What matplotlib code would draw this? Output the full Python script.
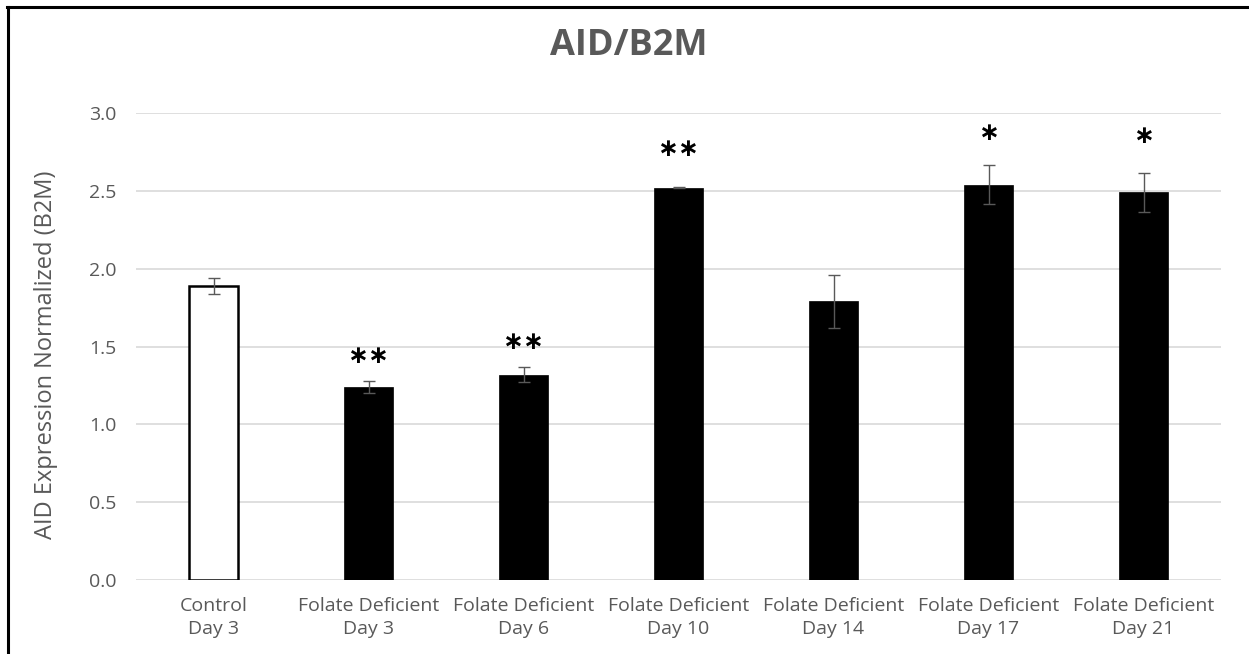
import numpy as np
import matplotlib.pyplot as plt

# Categories and values
groups = ['Control\nDay 3', 'Folate Deficient\nDay 3', 'Folate Deficient\nDay 6',
          'Folate Deficient\nDay 10', 'Folate Deficient\nDay 14',
          'Folate Deficient\nDay 17', 'Folate Deficient\nDay 21']
expression = [1.89, 1.24, 1.32, 2.52, 1.79, 2.54, 2.49]
errors = [0.05, 0.04, 0.05, 0.005, 0.17, 0.125, 0.125]
fill_colors = ['white', 'black', 'black', 'black', 'black', 'black', 'black']
stars = ['', '**', '**', '**', '', '*', '*']
star_y = [0, 1.44, 1.53, 2.77, 0, 2.87, 2.85]

plt.rcParams['font.family'] = ['Open Sans', 'DejaVu Sans']
grey = '#595959'

fig = plt.figure(figsize=(12.49, 6.54), dpi=100)
ax = fig.add_axes([136 / 1249, 1 - 580 / 654, 1085 / 1249, 467 / 654])

x = np.arange(len(groups))
ax.bar(x, expression, width=0.32, color=fill_colors, edgecolor='black',
       linewidth=[1.8, 0.5, 0.5, 0.5, 0.5, 0.5, 0.5], zorder=3)
ax.errorbar(x, expression, yerr=errors, fmt='none', ecolor=grey,
            elinewidth=1, capsize=4, capthick=1, zorder=4)

for xi, s, sy in zip(x, stars, star_y):
    if s:
        ax.text(xi, sy, s.replace('*', '\u2217'), ha='center', va='center',
                fontsize=18, fontweight='bold', color='black',
                family=['DejaVu Sans'])

ax.set_xlim(-0.5, len(groups) - 0.5)
ax.set_ylim(0, 3.0)
ax.set_yticks(np.arange(0, 3.01, 0.5))
ax.set_yticklabels([f'{v:.1f}' for v in np.arange(0, 3.01, 0.5)])
ax.set_xticks(x)
ax.set_xticklabels(groups, linespacing=1.4)
ax.tick_params(axis='both', length=0, labelsize=14, labelcolor=grey)
ax.tick_params(axis='y', pad=14)
ax.tick_params(axis='x', pad=12)
ax.grid(axis='y', color='#d9d9d9', linewidth=1.2, zorder=0)
for sp in ax.spines.values():
    sp.set_visible(False)

fig.text(46 / 1249, 1 - 355 / 654, 'AID Expression Normalized (B2M)',
         rotation=90, ha='center', va='center', fontsize=17, color=grey)

fig.text(629 / 1249, 1 - 46 / 654, 'AID/B2M', ha='center', va='center',
         fontsize=26, fontweight='bold', color=grey)

# chart frame (top and left edges visible)
fig.add_artist(plt.Line2D([7 / 1249, 1], [1 - 7 / 654, 1 - 7 / 654],
                          color='black', linewidth=2.2, transform=fig.transFigure))
fig.add_artist(plt.Line2D([8 / 1249, 8 / 1249], [0, 1 - 7 / 654],
                          color='black', linewidth=2.2, transform=fig.transFigure))

fig.savefig('out.png', dpi=100)
